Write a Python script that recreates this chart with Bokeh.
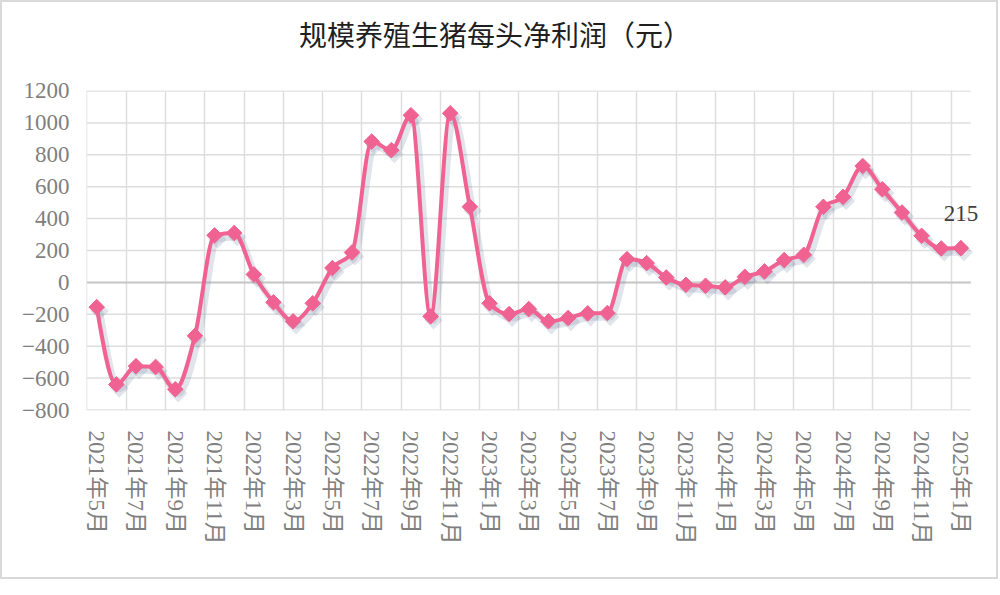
import numpy as np
from bokeh.plotting import figure
from bokeh.layouts import column
from bokeh.models import ColumnDataSource, FixedTicker, Range1d, Label, Div
from bokeh.transform import dodge
from bokeh.embed import file_html
from bokeh.resources import INLINE

months = [
    "2021年5月", "2021年6月", "2021年7月", "2021年8月", "2021年9月", "2021年10月",
    "2021年11月", "2021年12月", "2022年1月", "2022年2月", "2022年3月", "2022年4月",
    "2022年5月", "2022年6月", "2022年7月", "2022年8月", "2022年9月", "2022年10月",
    "2022年11月", "2022年12月", "2023年1月", "2023年2月", "2023年3月", "2023年4月",
    "2023年5月", "2023年6月", "2023年7月", "2023年8月", "2023年9月", "2023年10月",
    "2023年11月", "2023年12月", "2024年1月", "2024年2月", "2024年3月", "2024年4月",
    "2024年5月", "2024年6月", "2024年7月", "2024年8月", "2024年9月", "2024年10月",
    "2024年11月", "2024年12月", "2025年1月",
]
profit = [
    -155, -640, -525, -530, -670, -335,
    295, 310, 50, -125, -244, -131,
    90, 188, 883, 829, 1048, -213,
    1060, 474, -131, -198, -167, -244,
    -223, -194, -192, 146, 121, 31,
    -15, -21, -31, 35, 69, 140,
    173, 474, 536, 730, 584, 438,
    292, 213, 215,
]
y_ticks = [-800, -600, -400, -200, 0, 200, 400, 600, 800, 1000, 1200]
title_text = "规模养殖生猪每头净利润（元）"

LINE = "#F06292"
SERIF = "Liberation Serif, Noto Sans CJK SC"

# smoothed line: monotone cubic tangents -> bezier segments
n = len(profit)
xs = np.arange(n, dtype=float)
ys = np.array(profit, dtype=float)
s = np.diff(ys)
m = np.zeros(n)
for k in range(1, n - 1):
    s0, s1 = s[k - 1], s[k]
    pk = (s0 + s1) / 2.0
    m[k] = (np.sign(s0) + np.sign(s1)) * min(abs(s0), abs(s1), 0.5 * abs(pk))
m[0] = (3 * s[0] - m[1]) / 2.0
m[-1] = (3 * s[-1] - m[-2]) / 2.0
i = np.arange(n - 1)
seg = ColumnDataSource(dict(
    x0=xs[i], y0=ys[i], x1=xs[i + 1], y1=ys[i + 1],
    cx0=xs[i] + 1 / 3, cy0=ys[i] + m[i] / 3,
    cx1=xs[i + 1] - 1 / 3, cy1=ys[i + 1] - m[i + 1] / 3,
))
pts = ColumnDataSource(dict(x=xs, y=ys))

title = Div(text=title_text, width=994, height=70, margin=0,
            styles={"font-family": "Noto Sans CJK SC", "font-size": "28px",
                    "color": "#1f1f1f", "line-height": "64px", "text-align": "center",
                    "padding-right": "8px", "box-sizing": "border-box",
                    "white-space": "nowrap"})

x_lo, x_hi = xs[0] - 0.5, xs[-1] + 0.5
p = figure(width=994, height=505, output_backend="svg", toolbar_location=None,
           x_range=Range1d(x_lo - 0.02, x_hi + 0.6), y_range=Range1d(-803, 1203),
           min_border_left=84, min_border_right=14, min_border_top=18,
           min_border_bottom=167, margin=0)
p.outline_line_color = None
p.background_fill_color = "white"
p.border_fill_color = "white"

# grids: vertical via grid, horizontal drawn across the category span
p.xgrid.ticker = FixedTicker(ticks=[k - 0.5 for k in range(0, n, 2)])
p.xgrid.grid_line_color = "#dedede"
p.xgrid.grid_line_width = 1.5
p.ygrid.grid_line_color = None
p.segment(x0=[x_lo] * len(y_ticks), x1=[x_hi] * len(y_ticks), y0=y_ticks, y1=y_ticks,
          line_color="#dedede", line_width=1.5)
p.segment(x0=[x_lo], x1=[x_hi], y0=[0], y1=[0], line_color="#c8c8c8", line_width=2)

# axes
p.xaxis.ticker = FixedTicker(ticks=list(range(0, n, 2)))
p.xaxis.major_label_overrides = {k: months[k] for k in range(0, n, 2)}
p.xaxis.major_label_orientation = "vertical"
p.yaxis.ticker = FixedTicker(ticks=y_ticks)
for ax in (p.xaxis, p.yaxis):
    ax.axis_line_color = None
    ax.major_tick_line_color = None
    ax.minor_tick_line_color = None
    ax.major_tick_out = 0
    ax.major_label_text_font = SERIF
    ax.major_label_text_font_size = "23px"
    ax.major_label_text_color = "#7f7f7f"
p.yaxis.major_label_standoff = 17
p.xaxis.major_label_standoff = 20

# shadow
sdx, sdy = 0.15, -25
p.bezier(x0=dodge("x0", sdx), y0=dodge("y0", sdy), x1=dodge("x1", sdx), y1=dodge("y1", sdy),
         cx0=dodge("cx0", sdx), cy0=dodge("cy0", sdy), cx1=dodge("cx1", sdx), cy1=dodge("cy1", sdy),
         source=seg, line_color="#6a7d99", line_alpha=0.2, line_width=7)
p.scatter(x=dodge("x", sdx), y=dodge("y", sdy), source=pts, marker="square", angle=np.pi / 4,
          size=13, fill_color="#6a7d99", fill_alpha=0.2, line_color=None)

# main series
p.bezier(x0="x0", y0="y0", x1="x1", y1="y1", cx0="cx0", cy0="cy0", cx1="cx1", cy1="cy1",
         source=seg, line_color=LINE, line_width=4)
p.scatter(x="x", y="y", source=pts, marker="square", angle=np.pi / 4, size=11,
          fill_color=LINE, line_color=LINE, line_width=1)

# data label for last point
p.add_layout(Label(x=n - 1, y=profit[-1], text=str(profit[-1]), y_offset=35,
                   text_align="center", text_baseline="middle",
                   text_font=SERIF, text_font_size="23px", text_color="#404040"))

layout = column(title, p, spacing=0, margin=0,
                styles={"border": "2px solid #d9d9d9", "background-color": "white"})

open("out.html", "w").write(file_html(layout, INLINE))
